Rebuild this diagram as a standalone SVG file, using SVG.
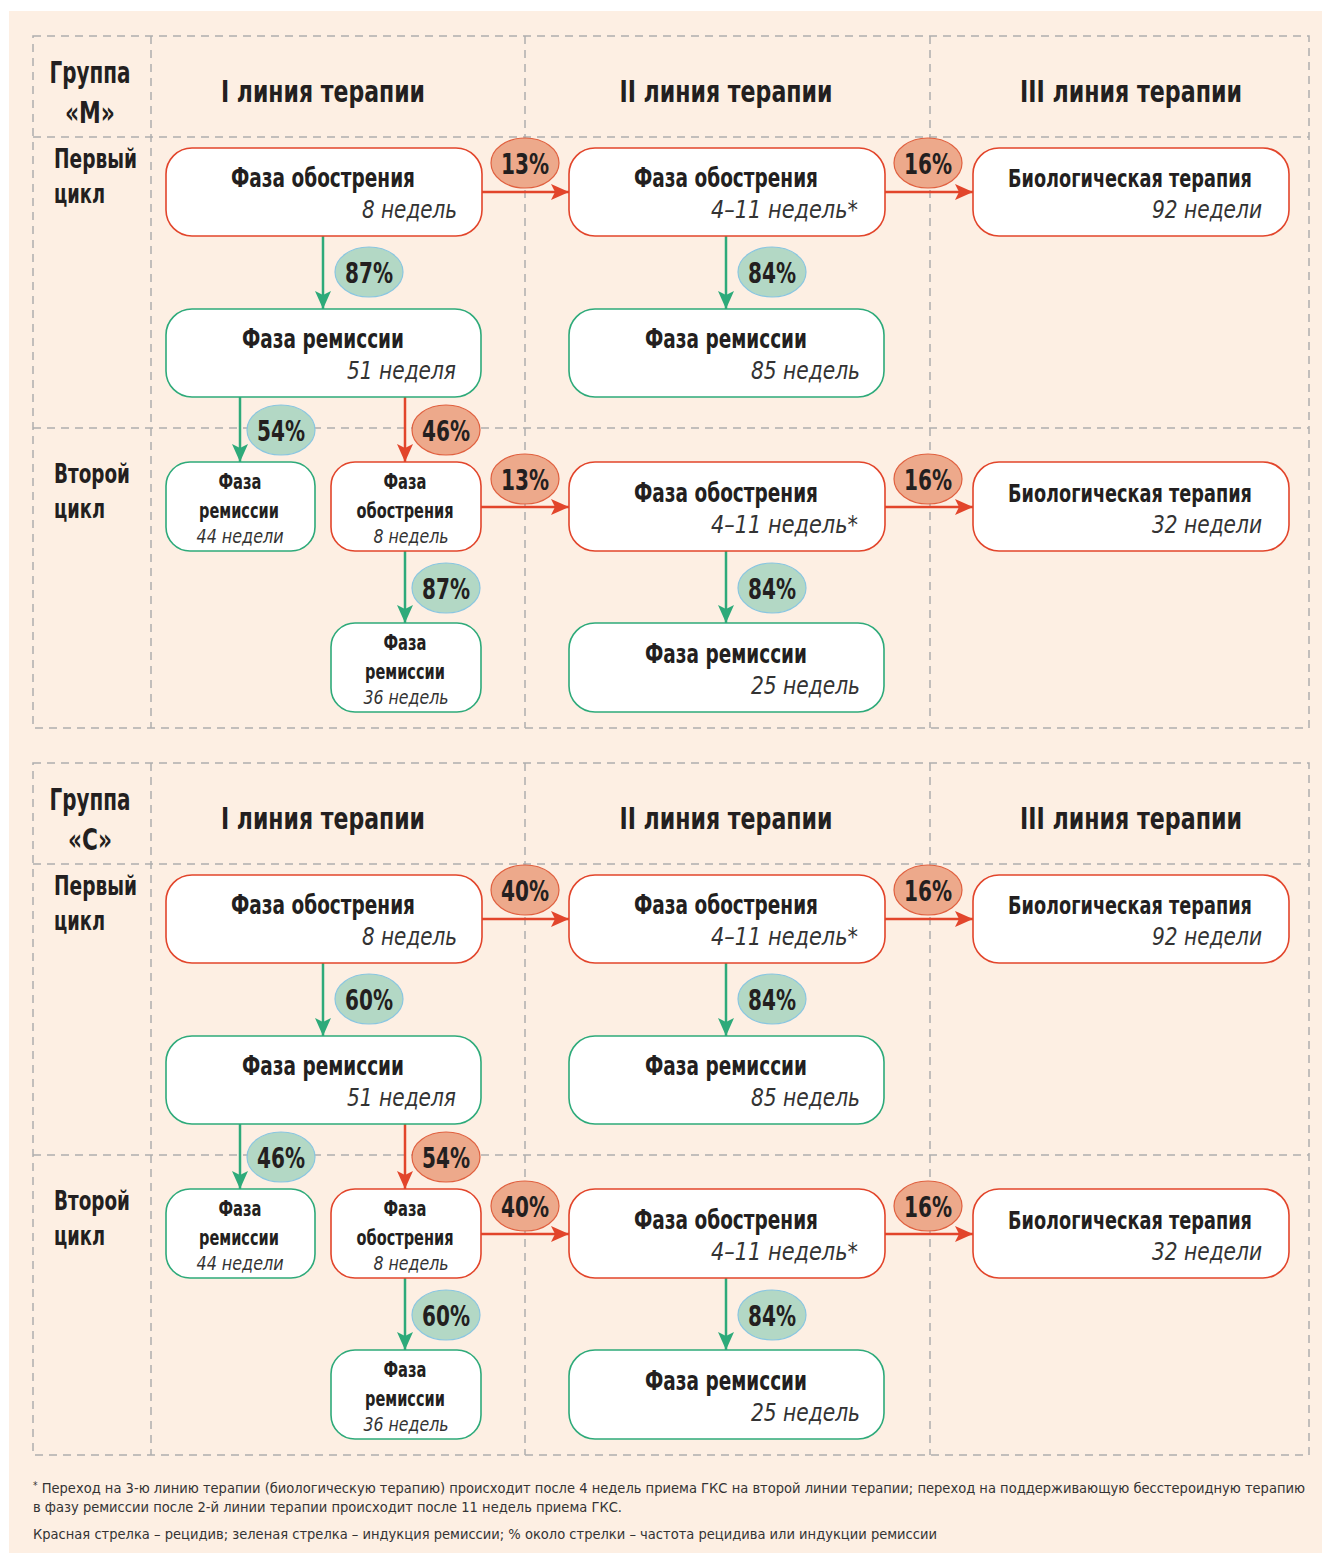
<svg xmlns="http://www.w3.org/2000/svg" width="1322" height="1553" viewBox="0 0 1322 1553">
<style>
.grid{fill:none;stroke:#aeaeae;stroke-width:1.5;stroke-dasharray:8 6}
.nr{fill:#fff;stroke:#e2452b;stroke-width:1.6}
.ng{fill:#fff;stroke:#2eaa7a;stroke-width:1.6}
text{font-family:"Liberation Sans Narrow","DejaVu Sans Condensed","PT Sans Narrow","Liberation Sans",sans-serif;font-stretch:condensed;fill:#231f20}
.hd{font-size:30px;font-weight:bold;text-anchor:middle}
.gl{font-size:31px;font-weight:bold;text-anchor:middle}
.rl{font-size:26px;font-weight:bold}
.t{font-size:27px;font-weight:bold;text-anchor:middle}
.tb{font-size:25px;font-weight:bold;text-anchor:middle}
.s{font-size:25px;font-style:italic;text-anchor:end;fill:#333}
.ts{font-size:21px;font-weight:bold;text-anchor:middle}
.ss{font-size:20px;font-style:italic;text-anchor:middle;fill:#333}
.ar{stroke:#e2452b;stroke-width:2.5;fill:none;marker-end:url(#mr)}
.ag{stroke:#2eaa7a;stroke-width:2.5;fill:none;marker-end:url(#mg)}
.br{fill:#eda98b;stroke:#e0603f;stroke-width:1.2}
.bg{fill:#b3d8c5;stroke:#8ac6e0;stroke-width:1.2}
.bt{font-size:29px;font-weight:bold;text-anchor:middle}
.ft{font-size:14.5px;fill:#333}
</style>
<defs>
<marker id="mr" markerUnits="userSpaceOnUse" markerWidth="18" markerHeight="16" viewBox="0 0 18 16" refX="18" refY="8" orient="auto"><path d="M0,0 L18,8 L0,16 L4,8 Z" fill="#e2452b"/></marker>
<marker id="mg" markerUnits="userSpaceOnUse" markerWidth="18" markerHeight="16" viewBox="0 0 18 16" refX="18" refY="8" orient="auto"><path d="M0,0 L18,8 L0,16 L4,8 Z" fill="#2eaa7a"/></marker>
</defs>
<rect x="9" y="11" width="1313" height="1542" fill="#fdefe3"/>

<g id="grid">
<rect class="grid" x="33" y="36" width="1276" height="692"/>
<line class="grid" x1="151" y1="36" x2="151" y2="728"/>
<line class="grid" x1="525" y1="36" x2="525" y2="728"/>
<line class="grid" x1="930" y1="36" x2="930" y2="728"/>
<line class="grid" x1="33" y1="137" x2="1309" y2="137"/>
<line class="grid" x1="33" y1="428" x2="1309" y2="428"/>
<rect class="grid" x="33" y="763" width="1276" height="692"/>
<line class="grid" x1="151" y1="763" x2="151" y2="1455"/>
<line class="grid" x1="525" y1="763" x2="525" y2="1455"/>
<line class="grid" x1="930" y1="763" x2="930" y2="1455"/>
<line class="grid" x1="33" y1="864" x2="1309" y2="864"/>
<line class="grid" x1="33" y1="1155" x2="1309" y2="1155"/>
</g>

<g id="headers">
<text class="gl" x="90" y="83" textLength="81" lengthAdjust="spacingAndGlyphs">Группа</text>
<text class="gl" x="90" y="123" textLength="50" lengthAdjust="spacingAndGlyphs">«М»</text>
<text class="hd" x="323" y="102" textLength="204" lengthAdjust="spacingAndGlyphs">I линия терапии</text>
<text class="hd" x="726" y="102" textLength="213" lengthAdjust="spacingAndGlyphs">II линия терапии</text>
<text class="hd" x="1131" y="102" textLength="222" lengthAdjust="spacingAndGlyphs">III линия терапии</text>
<text class="rl" x="54" y="168" textLength="83" lengthAdjust="spacingAndGlyphs">Первый</text>
<text class="rl" x="54" y="203" textLength="51" lengthAdjust="spacingAndGlyphs">цикл</text>
<text class="rl" x="54" y="483" textLength="76" lengthAdjust="spacingAndGlyphs">Второй</text>
<text class="rl" x="54" y="518" textLength="51" lengthAdjust="spacingAndGlyphs">цикл</text>
<text class="gl" x="90" y="810" textLength="81" lengthAdjust="spacingAndGlyphs">Группа</text>
<text class="gl" x="90" y="850" textLength="44" lengthAdjust="spacingAndGlyphs">«С»</text>
<text class="hd" x="323" y="829" textLength="204" lengthAdjust="spacingAndGlyphs">I линия терапии</text>
<text class="hd" x="726" y="829" textLength="213" lengthAdjust="spacingAndGlyphs">II линия терапии</text>
<text class="hd" x="1131" y="829" textLength="222" lengthAdjust="spacingAndGlyphs">III линия терапии</text>
<text class="rl" x="54" y="895" textLength="83" lengthAdjust="spacingAndGlyphs">Первый</text>
<text class="rl" x="54" y="930" textLength="51" lengthAdjust="spacingAndGlyphs">цикл</text>
<text class="rl" x="54" y="1210" textLength="76" lengthAdjust="spacingAndGlyphs">Второй</text>
<text class="rl" x="54" y="1245" textLength="51" lengthAdjust="spacingAndGlyphs">цикл</text>
</g>

<g id="connectors">
<line class="ar" x1="482" y1="192" x2="569" y2="192"/>
<line class="ar" x1="885" y1="192" x2="973" y2="192"/>
<line class="ag" x1="323" y1="236" x2="323" y2="309"/>
<line class="ag" x1="726" y1="236" x2="726" y2="309"/>
<line class="ag" x1="240" y1="397" x2="240" y2="462"/>
<line class="ar" x1="405" y1="397" x2="405" y2="462"/>
<line class="ar" x1="481" y1="507" x2="569" y2="507"/>
<line class="ar" x1="885" y1="507" x2="973" y2="507"/>
<line class="ag" x1="405" y1="551" x2="405" y2="623"/>
<line class="ag" x1="726" y1="551" x2="726" y2="623"/>
<line class="ar" x1="482" y1="919" x2="569" y2="919"/>
<line class="ar" x1="885" y1="919" x2="973" y2="919"/>
<line class="ag" x1="323" y1="963" x2="323" y2="1036"/>
<line class="ag" x1="726" y1="963" x2="726" y2="1036"/>
<line class="ag" x1="240" y1="1124" x2="240" y2="1189"/>
<line class="ar" x1="405" y1="1124" x2="405" y2="1189"/>
<line class="ar" x1="481" y1="1234" x2="569" y2="1234"/>
<line class="ar" x1="885" y1="1234" x2="973" y2="1234"/>
<line class="ag" x1="405" y1="1278" x2="405" y2="1350"/>
<line class="ag" x1="726" y1="1278" x2="726" y2="1350"/>
</g>

<g id="badges">
<ellipse class="br" cx="525" cy="163" rx="34" ry="25"/><text class="bt" x="525" y="174" textLength="48" lengthAdjust="spacingAndGlyphs">13%</text>
<ellipse class="br" cx="928" cy="163" rx="34" ry="25"/><text class="bt" x="928" y="174" textLength="48" lengthAdjust="spacingAndGlyphs">16%</text>
<ellipse class="bg" cx="369" cy="272" rx="34" ry="25"/><text class="bt" x="369" y="283" textLength="48" lengthAdjust="spacingAndGlyphs">87%</text>
<ellipse class="bg" cx="772" cy="272" rx="34" ry="25"/><text class="bt" x="772" y="283" textLength="48" lengthAdjust="spacingAndGlyphs">84%</text>
<ellipse class="bg" cx="281" cy="430" rx="34" ry="25"/><text class="bt" x="281" y="441" textLength="48" lengthAdjust="spacingAndGlyphs">54%</text>
<ellipse class="br" cx="446" cy="430" rx="34" ry="25"/><text class="bt" x="446" y="441" textLength="48" lengthAdjust="spacingAndGlyphs">46%</text>
<ellipse class="br" cx="525" cy="479" rx="34" ry="25"/><text class="bt" x="525" y="490" textLength="48" lengthAdjust="spacingAndGlyphs">13%</text>
<ellipse class="br" cx="928" cy="479" rx="34" ry="25"/><text class="bt" x="928" y="490" textLength="48" lengthAdjust="spacingAndGlyphs">16%</text>
<ellipse class="bg" cx="446" cy="588" rx="34" ry="25"/><text class="bt" x="446" y="599" textLength="48" lengthAdjust="spacingAndGlyphs">87%</text>
<ellipse class="bg" cx="772" cy="588" rx="34" ry="25"/><text class="bt" x="772" y="599" textLength="48" lengthAdjust="spacingAndGlyphs">84%</text>
<ellipse class="br" cx="525" cy="890" rx="34" ry="25"/><text class="bt" x="525" y="901" textLength="48" lengthAdjust="spacingAndGlyphs">40%</text>
<ellipse class="br" cx="928" cy="890" rx="34" ry="25"/><text class="bt" x="928" y="901" textLength="48" lengthAdjust="spacingAndGlyphs">16%</text>
<ellipse class="bg" cx="369" cy="999" rx="34" ry="25"/><text class="bt" x="369" y="1010" textLength="48" lengthAdjust="spacingAndGlyphs">60%</text>
<ellipse class="bg" cx="772" cy="999" rx="34" ry="25"/><text class="bt" x="772" y="1010" textLength="48" lengthAdjust="spacingAndGlyphs">84%</text>
<ellipse class="bg" cx="281" cy="1157" rx="34" ry="25"/><text class="bt" x="281" y="1168" textLength="48" lengthAdjust="spacingAndGlyphs">46%</text>
<ellipse class="br" cx="446" cy="1157" rx="34" ry="25"/><text class="bt" x="446" y="1168" textLength="48" lengthAdjust="spacingAndGlyphs">54%</text>
<ellipse class="br" cx="525" cy="1206" rx="34" ry="25"/><text class="bt" x="525" y="1217" textLength="48" lengthAdjust="spacingAndGlyphs">40%</text>
<ellipse class="br" cx="928" cy="1206" rx="34" ry="25"/><text class="bt" x="928" y="1217" textLength="48" lengthAdjust="spacingAndGlyphs">16%</text>
<ellipse class="bg" cx="446" cy="1315" rx="34" ry="25"/><text class="bt" x="446" y="1326" textLength="48" lengthAdjust="spacingAndGlyphs">60%</text>
<ellipse class="bg" cx="772" cy="1315" rx="34" ry="25"/><text class="bt" x="772" y="1326" textLength="48" lengthAdjust="spacingAndGlyphs">84%</text>
</g>

<g id="m-n1"><rect class="nr" x="166" y="148" width="316" height="88" rx="26"/><text class="t" x="323" y="187" textLength="184" lengthAdjust="spacingAndGlyphs">Фаза обострения</text><text class="s" x="457" y="218" textLength="95" lengthAdjust="spacingAndGlyphs">8 недель</text></g>
<g id="m-n2"><rect class="nr" x="569" y="148" width="316" height="88" rx="26"/><text class="t" x="726" y="187" textLength="184" lengthAdjust="spacingAndGlyphs">Фаза обострения</text><text class="s" x="858" y="218" textLength="147" lengthAdjust="spacingAndGlyphs">4–11 недель*</text></g>
<g id="m-n3"><rect class="nr" x="973" y="148" width="316" height="88" rx="26"/><text class="tb" x="1130" y="187" textLength="244" lengthAdjust="spacingAndGlyphs">Биологическая терапия</text><text class="s" x="1262" y="218" textLength="110" lengthAdjust="spacingAndGlyphs">92 недели</text></g>
<g id="m-n4"><rect class="ng" x="166" y="309" width="315" height="88" rx="26"/><text class="t" x="323" y="348" textLength="162" lengthAdjust="spacingAndGlyphs">Фаза ремиссии</text><text class="s" x="456" y="379" textLength="109" lengthAdjust="spacingAndGlyphs">51 неделя</text></g>
<g id="m-n5"><rect class="ng" x="569" y="309" width="315" height="88" rx="26"/><text class="t" x="726" y="348" textLength="162" lengthAdjust="spacingAndGlyphs">Фаза ремиссии</text><text class="s" x="860" y="379" textLength="109" lengthAdjust="spacingAndGlyphs">85 недель</text></g>
<g id="m-n6"><rect class="ng" x="166" y="462" width="149" height="89" rx="24"/><text class="ts" x="240" y="489" textLength="43" lengthAdjust="spacingAndGlyphs">Фаза</text><text class="ts" x="239" y="518" textLength="80" lengthAdjust="spacingAndGlyphs">ремиссии</text><text class="ss" x="240" y="543" textLength="87" lengthAdjust="spacingAndGlyphs">44 недели</text></g>
<g id="m-n7"><rect class="nr" x="331" y="462" width="150" height="89" rx="24"/><text class="ts" x="405" y="489" textLength="43" lengthAdjust="spacingAndGlyphs">Фаза</text><text class="ts" x="405" y="518" textLength="97" lengthAdjust="spacingAndGlyphs">обострения</text><text class="ss" x="411" y="543" textLength="75" lengthAdjust="spacingAndGlyphs">8 недель</text></g>
<g id="m-n8"><rect class="nr" x="569" y="462" width="316" height="89" rx="26"/><text class="t" x="726" y="502" textLength="184" lengthAdjust="spacingAndGlyphs">Фаза обострения</text><text class="s" x="858" y="533" textLength="147" lengthAdjust="spacingAndGlyphs">4–11 недель*</text></g>
<g id="m-n9"><rect class="nr" x="973" y="462" width="316" height="89" rx="26"/><text class="tb" x="1130" y="502" textLength="244" lengthAdjust="spacingAndGlyphs">Биологическая терапия</text><text class="s" x="1262" y="533" textLength="110" lengthAdjust="spacingAndGlyphs">32 недели</text></g>
<g id="m-n10"><rect class="ng" x="331" y="623" width="150" height="89" rx="24"/><text class="ts" x="405" y="650" textLength="43" lengthAdjust="spacingAndGlyphs">Фаза</text><text class="ts" x="405" y="679" textLength="80" lengthAdjust="spacingAndGlyphs">ремиссии</text><text class="ss" x="406" y="704" textLength="85" lengthAdjust="spacingAndGlyphs">36 недель</text></g>
<g id="m-n11"><rect class="ng" x="569" y="623" width="315" height="89" rx="26"/><text class="t" x="726" y="663" textLength="162" lengthAdjust="spacingAndGlyphs">Фаза ремиссии</text><text class="s" x="860" y="694" textLength="109" lengthAdjust="spacingAndGlyphs">25 недель</text></g>

<g id="c-n1"><rect class="nr" x="166" y="875" width="316" height="88" rx="26"/><text class="t" x="323" y="914" textLength="184" lengthAdjust="spacingAndGlyphs">Фаза обострения</text><text class="s" x="457" y="945" textLength="95" lengthAdjust="spacingAndGlyphs">8 недель</text></g>
<g id="c-n2"><rect class="nr" x="569" y="875" width="316" height="88" rx="26"/><text class="t" x="726" y="914" textLength="184" lengthAdjust="spacingAndGlyphs">Фаза обострения</text><text class="s" x="858" y="945" textLength="147" lengthAdjust="spacingAndGlyphs">4–11 недель*</text></g>
<g id="c-n3"><rect class="nr" x="973" y="875" width="316" height="88" rx="26"/><text class="tb" x="1130" y="914" textLength="244" lengthAdjust="spacingAndGlyphs">Биологическая терапия</text><text class="s" x="1262" y="945" textLength="110" lengthAdjust="spacingAndGlyphs">92 недели</text></g>
<g id="c-n4"><rect class="ng" x="166" y="1036" width="315" height="88" rx="26"/><text class="t" x="323" y="1075" textLength="162" lengthAdjust="spacingAndGlyphs">Фаза ремиссии</text><text class="s" x="456" y="1106" textLength="109" lengthAdjust="spacingAndGlyphs">51 неделя</text></g>
<g id="c-n5"><rect class="ng" x="569" y="1036" width="315" height="88" rx="26"/><text class="t" x="726" y="1075" textLength="162" lengthAdjust="spacingAndGlyphs">Фаза ремиссии</text><text class="s" x="860" y="1106" textLength="109" lengthAdjust="spacingAndGlyphs">85 недель</text></g>
<g id="c-n6"><rect class="ng" x="166" y="1189" width="149" height="89" rx="24"/><text class="ts" x="240" y="1216" textLength="43" lengthAdjust="spacingAndGlyphs">Фаза</text><text class="ts" x="239" y="1245" textLength="80" lengthAdjust="spacingAndGlyphs">ремиссии</text><text class="ss" x="240" y="1270" textLength="87" lengthAdjust="spacingAndGlyphs">44 недели</text></g>
<g id="c-n7"><rect class="nr" x="331" y="1189" width="150" height="89" rx="24"/><text class="ts" x="405" y="1216" textLength="43" lengthAdjust="spacingAndGlyphs">Фаза</text><text class="ts" x="405" y="1245" textLength="97" lengthAdjust="spacingAndGlyphs">обострения</text><text class="ss" x="411" y="1270" textLength="75" lengthAdjust="spacingAndGlyphs">8 недель</text></g>
<g id="c-n8"><rect class="nr" x="569" y="1189" width="316" height="89" rx="26"/><text class="t" x="726" y="1229" textLength="184" lengthAdjust="spacingAndGlyphs">Фаза обострения</text><text class="s" x="858" y="1260" textLength="147" lengthAdjust="spacingAndGlyphs">4–11 недель*</text></g>
<g id="c-n9"><rect class="nr" x="973" y="1189" width="316" height="89" rx="26"/><text class="tb" x="1130" y="1229" textLength="244" lengthAdjust="spacingAndGlyphs">Биологическая терапия</text><text class="s" x="1262" y="1260" textLength="110" lengthAdjust="spacingAndGlyphs">32 недели</text></g>
<g id="c-n10"><rect class="ng" x="331" y="1350" width="150" height="89" rx="24"/><text class="ts" x="405" y="1377" textLength="43" lengthAdjust="spacingAndGlyphs">Фаза</text><text class="ts" x="405" y="1406" textLength="80" lengthAdjust="spacingAndGlyphs">ремиссии</text><text class="ss" x="406" y="1431" textLength="85" lengthAdjust="spacingAndGlyphs">36 недель</text></g>
<g id="c-n11"><rect class="ng" x="569" y="1350" width="315" height="89" rx="26"/><text class="t" x="726" y="1390" textLength="162" lengthAdjust="spacingAndGlyphs">Фаза ремиссии</text><text class="s" x="860" y="1421" textLength="109" lengthAdjust="spacingAndGlyphs">25 недель</text></g>

<g id="footer">
<text class="ft" x="33" y="1493" textLength="1272" lengthAdjust="spacingAndGlyphs"><tspan font-size="10" dy="-4">*</tspan><tspan dy="4"> Переход на 3-ю линию терапии (биологическую терапию) происходит после 4 недель приема ГКС на второй линии терапии; переход на поддерживающую бесстероидную терапию</tspan></text>
<text class="ft" x="33" y="1512" textLength="589" lengthAdjust="spacingAndGlyphs">в фазу ремиссии после 2-й линии терапии происходит после 11 недель приема ГКС.</text>
<text class="ft" x="33" y="1539" textLength="904" lengthAdjust="spacingAndGlyphs">Красная стрелка – рецидив; зеленая стрелка – индукция ремиссии; % около стрелки – частота рецидива или индукции ремиссии</text>
</g>
</svg>
